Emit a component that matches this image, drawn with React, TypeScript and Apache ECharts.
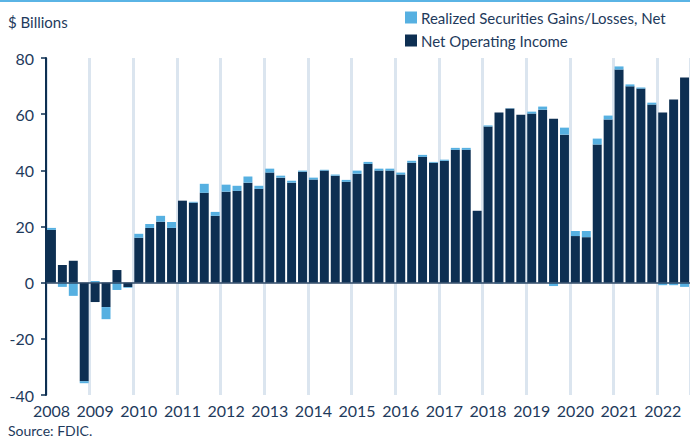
import React, { useEffect, useRef } from "react";
import * as echarts from "echarts";

const years = ["2008","2009","2010","2011","2012","2013","2014","2015","2016","2017","2018","2019","2020","2021","2022"];
const quarters = ["Q1","Q2","Q3","Q4"];
const lastQuarterCount = 59;

const netOperatingIncome = [
  18.8, 6.3, 7.8, -35.1,
  -6.9, -8.7, 4.5, -1.5,
  16.0, 19.5, 21.7, 19.5,
  29.2, 28.5, 32.0, 23.8,
  32.4, 32.7, 35.6, 33.4,
  39.2, 37.4, 35.6, 39.5,
  36.7, 39.9, 38.1, 35.9,
  38.8, 42.3, 39.9, 39.9,
  38.5, 42.7, 44.8, 42.7,
  43.4, 47.3, 47.3, 25.6,
  55.6, 60.6, 62.0, 59.8,
  60.2, 61.6, 58.4, 52.7,
  16.6, 16.2, 49.2, 58.1,
  75.9, 69.9, 69.1, 63.4,
  60.6, 65.2, 73.1,
];

const securitiesGains = [
  0.7, -1.5, -4.7, -0.7,
  0.6, -4.3, -2.6, -0.3,
  1.4, 1.4, 2.1, 2.1,
  -0.3, 0.3, 3.2, 1.4,
  2.5, 1.8, 2.2, 1.1,
  1.4, 0.7, 0.7, 0.4,
  0.7, 0.3, 0.4, 0.7,
  1.1, 0.7, 0.7, 0.7,
  0.7, 0.7, 0.7, 0.3,
  0.4, 0.7, 0.7, -0.2,
  0.4, -0.3, 0.1, -0.2,
  0.7, 1.1, -1.2, 2.5,
  1.8, 2.2, 2.1, 1.4,
  1.1, 0.7, 0.4, 0.7,
  -0.9, -0.9, -1.5,
];

const yTicks = { min: -40, max: 80, interval: 20 };

const categories: string[] = [];
years.forEach((y) => quarters.forEach((q) => categories.push(y + " " + q)));
const cats = categories.slice(0, lastQuarterCount);

const DARK = "#0d2f52";
const LIGHT = "#56b0e1";
const TEXT = "#1e3a5c";
const FONT = "Lato";

export default function App() {
  const ref = useRef<HTMLDivElement>(null);
  useEffect(() => {
    if (!ref.current) return;
    const chart = echarts.init(ref.current, null, { renderer: "svg" });
    chart.setOption({
      animation: false,
      textStyle: { fontFamily: FONT },
      grid: { left: 46, right: 0, top: 58, bottom: 43, containLabel: false },
      legend: {
        orient: "vertical",
        left: 400,
        top: 5,
        itemWidth: 12,
        itemHeight: 12,
        itemGap: 8,
        icon: "rect",
        data: ["Realized Securities Gains/Losses, Net", "Net Operating Income"],
        textStyle: { fontFamily: FONT, fontSize: 15, color: TEXT, padding: [0, 0, 0, -1] },
      },
      xAxis: {
        type: "category",
        data: cats,
        boundaryGap: true,
        axisLine: { show: false },
        axisTick: { show: false },
        axisLabel: {
          interval: 3,
          fontFamily: FONT,
          fontSize: 16,
          lineHeight: 13,
          color: TEXT,
          margin: 9,
          formatter: (v: string) => v.split(" ")[0],
        },
        splitLine: { show: true, interval: 3, lineStyle: { color: "#dbe5ef", width: 3 } },
      },
      yAxis: {
        type: "value",
        min: yTicks.min,
        max: yTicks.max,
        interval: yTicks.interval,
        axisLine: { show: true, lineStyle: { color: DARK, width: 2 } },
        axisTick: { show: true, length: 5, lineStyle: { color: DARK, width: 1.5 } },
        axisLabel: { fontFamily: FONT, fontSize: 16, color: TEXT, margin: 12 },
        splitLine: { show: false },
      },
      series: [
        {
          name: "Net Operating Income",
          type: "bar",
          stack: "total",
          data: netOperatingIncome,
          itemStyle: { color: DARK },
          barCategoryGap: "18%",
          markLine: {
            silent: true,
            symbol: "none",
            label: { show: false },
            lineStyle: { color: "#2c4766", width: 1.5, type: "solid" },
            data: [{ yAxis: 0 }],
          },
        },
        {
          name: "Realized Securities Gains/Losses, Net",
          type: "bar",
          stack: "total",
          data: securitiesGains,
          itemStyle: { color: LIGHT },
          barCategoryGap: "18%",
        },
      ],
      graphic: [
        { type: "rect", left: 0, top: 0, shape: { width: 690, height: 2 }, style: { fill: "#5ab4e5" } },
        {
          type: "text",
          left: 8,
          top: 14,
          style: { text: "$ Billions", fontFamily: FONT, fontSize: 15, fill: TEXT },
        },
        {
          type: "text",
          left: 8,
          top: 423,
          style: { text: "Source: FDIC.", fontFamily: FONT, fontSize: 14, lineHeight: 12, fill: TEXT },
        },
      ],
    });
    return () => chart.dispose();
  }, []);
  return (
    <div
      ref={ref}
      style={{ position: "absolute", left: 0, top: 0, width: 690, height: 438 }}
    />
  );
}
